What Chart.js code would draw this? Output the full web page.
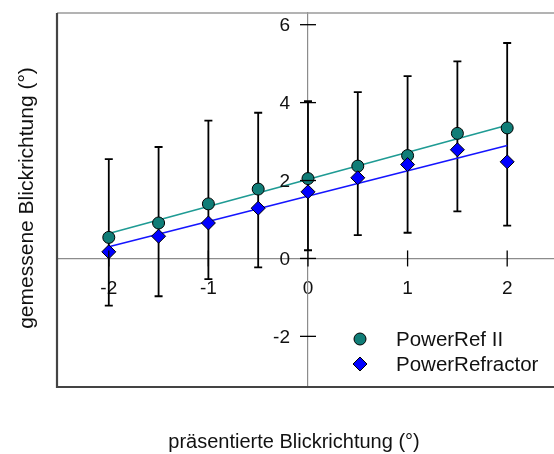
<!DOCTYPE html>
<html><head><meta charset="utf-8">
<script src="https://cdn.jsdelivr.net/npm/chart.js@4"></script>
<style>html,body{margin:0;padding:0;background:#fff}#wrap{width:554px;height:454px}</style>
</head><body><div id="wrap"><canvas id="c" width="554" height="454"></canvas></div>
<script>
// ---- data ----
const xValues        = [-2, -1.5, -1, -0.5, 0, 0.5, 1, 1.5, 2];
const powerRefII     = [0.54, 0.91, 1.40, 1.78, 2.05, 2.37, 2.64, 3.21, 3.35];
const powerRefractor = [0.17, 0.57, 0.91, 1.29, 1.71, 2.07, 2.41, 2.79, 2.48];
const errLow         = [-1.21, -0.97, -0.53, -0.23, 0.21, 0.60, 0.66, 1.21, 0.84];
const errHigh        = [2.55, 2.86, 3.54, 3.74, 4.04, 4.27, 4.68, 5.06, 5.53];
const fitX           = [-2, 2];
const fitRefII       = [0.64, 3.42];
const fitRefractor   = [0.30, 2.90];
const seriesNames    = ['PowerRef II', 'PowerRefractor'];
const xTitle = 'präsentierte Blickrichtung (°)';
const yTitle = 'gemessene Blickrichtung (°)';

const FONT = "'Liberation Sans', Arial, sans-serif";
const pts = (xs, ys) => xs.map((v, i) => ({x: v, y: ys[i]}));
const noPad = s => { s.paddingTop = 0; s.paddingBottom = 0; s.paddingLeft = 0; s.paddingRight = 0; };

const errorBars = {
  id: 'errorBars',
  beforeDatasetsDraw(chart) {
    const {ctx, scales: {x, y}} = chart;
    ctx.save();
    ctx.strokeStyle = '#000';
    ctx.lineWidth = 1.8;
    xValues.forEach((v, i) => {
      const px = x.getPixelForValue(v);
      const lo = y.getPixelForValue(errLow[i]);
      const hi = y.getPixelForValue(errHigh[i]);
      ctx.beginPath();
      ctx.moveTo(px, lo); ctx.lineTo(px, hi);
      ctx.moveTo(px - 4, lo); ctx.lineTo(px + 4, lo);
      ctx.moveTo(px - 4, hi); ctx.lineTo(px + 4, hi);
      ctx.stroke();
    });
    ctx.restore();
  }
};

const decor = {
  id: 'decor',
  afterDatasetsDraw(chart) {
    const {ctx, chartArea: a, scales: {x, y}} = chart;
    ctx.save();
    // tick marks crossing the centred axes
    ctx.strokeStyle = '#000';
    ctx.lineWidth = 1.3;
    const y0 = y.getPixelForValue(0), x0 = x.getPixelForValue(0);
    x.ticks.forEach(t => {
      const px = x.getPixelForValue(t.value);
      ctx.beginPath(); ctx.moveTo(px, y0 - 8); ctx.lineTo(px, y0 + 8); ctx.stroke();
    });
    y.ticks.forEach(t => {
      const py = y.getPixelForValue(t.value);
      ctx.beginPath(); ctx.moveTo(x0 - 8, py); ctx.lineTo(x0 + 8, py); ctx.stroke();
    });
    // y tick labels, to the left of the centred y axis
    ctx.fillStyle = '#111';
    ctx.font = '19px ' + FONT;
    ctx.textAlign = 'right';
    ctx.textBaseline = 'middle';
    y.ticks.forEach(t => {
      ctx.fillText(t.label, x0 - 18, y.getPixelForValue(t.value) + 1);
    });
    // frame
    ctx.strokeStyle = '#9a9a9a'; ctx.lineWidth = 1.5;
    ctx.beginPath(); ctx.moveTo(a.left, a.top); ctx.lineTo(a.right + 5, a.top); ctx.stroke();
    ctx.strokeStyle = '#444'; ctx.lineWidth = 2.2;
    ctx.beginPath(); ctx.moveTo(a.left, a.top); ctx.lineTo(a.left, a.bottom); ctx.lineTo(a.right + 5, a.bottom); ctx.stroke();
    ctx.restore();
  },
  afterDraw(chart) {
    const {ctx} = chart;
    ctx.save();
    ctx.fillStyle = '#111';
    ctx.textAlign = 'center';
    ctx.textBaseline = 'middle';
    ctx.font = '20px ' + FONT;
    ctx.fillText(xTitle, 294, 442);
    ctx.font = '21px ' + FONT;
    ctx.translate(27, 198);
    ctx.rotate(-Math.PI / 2);
    ctx.fillText(yTitle, 0, 0);
    ctx.restore();
    // legend
    ctx.save();
    const ds = chart.data.datasets;
    const items = [ds[2], ds[3]];
    items.forEach((d, i) => {
      const cy = 339 + i * 25;
      ctx.fillStyle = d.backgroundColor; ctx.strokeStyle = '#000';
      ctx.beginPath();
      if (d.pointStyle === 'circle') {
        ctx.arc(360, cy, d.pointRadius, 0, Math.PI * 2);
      } else {
        const r = d.pointRadius;
        ctx.moveTo(360, cy - r); ctx.lineTo(360 + r, cy); ctx.lineTo(360, cy + r); ctx.lineTo(360 - r, cy); ctx.closePath();
      }
      ctx.fill(); ctx.lineWidth = 1; ctx.stroke();
      ctx.fillStyle = '#111';
      ctx.font = '20.5px ' + FONT;
      ctx.textAlign = 'left';
      ctx.textBaseline = 'middle';
      ctx.fillText(seriesNames[i], 396, cy + 1);
    });
    ctx.restore();
  }
};

new Chart(document.getElementById('c'), {
  type: 'scatter',
  data: {
    datasets: [
      {label: 'fit ' + seriesNames[0], type: 'line', data: pts(fitX, fitRefII), borderColor: '#1f9b94', borderWidth: 1.7, pointRadius: 0, fill: false, order: 5},
      {label: 'fit ' + seriesNames[1], type: 'line', data: pts(fitX, fitRefractor), borderColor: '#1515ff', borderWidth: 1.7, pointRadius: 0, fill: false, order: 4},
      {label: seriesNames[0], data: pts(xValues, powerRefII), pointStyle: 'circle', pointRadius: 6, backgroundColor: '#107d77', borderColor: '#000', borderWidth: 1, order: 2},
      {label: seriesNames[1], data: pts(xValues, powerRefractor), pointStyle: 'rectRot', pointRadius: 7, backgroundColor: '#0000ff', borderColor: '#000', borderWidth: 1, order: 1}
    ]
  },
  options: {
    responsive: false,
    animation: false,
    layout: {autoPadding: false, padding: {left: 57, top: 13, right: 1, bottom: 67}},
    plugins: {legend: {display: false}, tooltip: {enabled: false}},
    scales: {
      x: {
        type: 'linear', min: -2.52, max: 2.46, position: {y: 0},
        afterFit: noPad,
        ticks: {stepSize: 1, includeBounds: false, padding: 19, color: '#111', font: {family: FONT, size: 19}},
        grid: {drawOnChartArea: false, drawTicks: false},
        border: {color: '#8c8c8c', width: 1.2}
      },
      y: {
        type: 'linear', min: -3.3, max: 6.3, position: {x: 0},
        afterFit: noPad,
        ticks: {stepSize: 2, includeBounds: false, display: false, font: {family: FONT, size: 19}},
        grid: {drawOnChartArea: false, drawTicks: false},
        border: {color: '#8c8c8c', width: 1.2}
      }
    }
  },
  plugins: [errorBars, decor]
});
</script></body></html>
